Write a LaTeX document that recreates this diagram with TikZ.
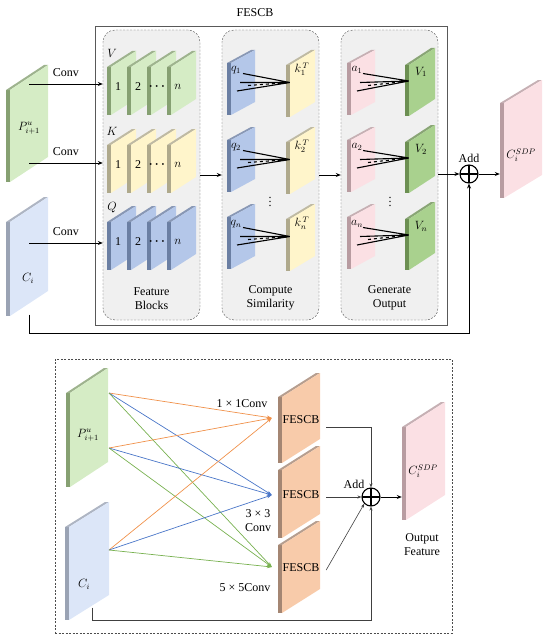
\documentclass[tikz,border=0pt]{standalone}
\usepackage{amsmath}
\usepackage{fontspec}
\setmainfont{Liberation Serif}
\usepackage{tikz}
\usetikzlibrary{arrows.meta,positioning,calc}
\definecolor{grnF}{HTML}{D5ECC5}
\definecolor{grnS}{HTML}{86A072}
\definecolor{grnV}{HTML}{A9D18E}
\definecolor{grnVS}{HTML}{6C8F52}
\definecolor{yelF}{HTML}{FFF5CB}
\definecolor{yelS}{HTML}{AFA98C}
\definecolor{bluF}{HTML}{B4C7E9}
\definecolor{bluS}{HTML}{6B7FA3}
\definecolor{ciF}{HTML}{DCE6F8}
\definecolor{ciS}{HTML}{9AA3B4}
\definecolor{pnkF}{HTML}{FBE0E4}
\definecolor{pnkS}{HTML}{B89CA1}
\definecolor{orgF}{HTML}{F8CBAA}
\definecolor{orgS}{HTML}{A48673}
\definecolor{lnOrg}{HTML}{F0914A}
\definecolor{lnBlu}{HTML}{4A76C8}
\definecolor{lnGrn}{HTML}{78B150}
\tikzset{
  conn/.style={-{Stealth[length=5pt,width=4pt]}, line width=0.9pt},
  thinconn/.style={-{Stealth[length=4pt,width=3pt]}, line width=0.6pt, draw=black!75},
  colconn/.style={-{Stealth[length=5pt,width=3.5pt]}, line width=0.7pt, draw=#1},
  stagebox/.style={draw=black!70, dash pattern=on 2pt off 1.5pt, rounded corners=12pt, fill=black!6, minimum width=97, minimum height=290},
  fan/.style={line width=1.1pt},
  addnode/.style={draw, circle, line width=1.1pt, minimum size=18, inner sep=0,
    path picture={\draw[line width=1.1pt] (path picture bounding box.north) -- (path picture bounding box.south)
      (path picture bounding box.west) -- (path picture bounding box.east);}},
  txt/.style={font=\fontsize{12}{14}\selectfont, inner sep=1pt, align=center}
}
% slab: name, x, y (top left of face), width, height, rise, face colour, side colour
\newcommand{\slab}[8]{%
  \fill[#8] ({#2-4},{#3}) -- ({#2},{#3}) -- ({#2},{#3+#5}) -- ({#2-4},{#3+#5}) -- cycle;
  \fill[#8!80!white] ({#2-4},{#3}) -- ({#2+#4-4},{#3-#6}) -- ({#2+#4},{#3-#6}) -- ({#2},{#3}) -- cycle;
  \fill[#7] ({#2},{#3}) -- ({#2+#4},{#3-#6}) -- ({#2+#4},{#3-#6+#5}) -- ({#2},{#3+#5}) -- cycle;
  \node[minimum width=#4, minimum height=#5] (#1) at ({#2+#4/2},{#3+#5/2-#6/2}) {};
}

\begin{document}
\begin{tikzpicture}[x=1pt, y=-1pt, every node/.style={txt}]
\useasboundingbox (0,0) rectangle (550,642);

% ---- top: one FESCB ----
\node[draw=black!65, line width=0.9pt, minimum width=352, minimum height=299] (fescb) at (271,175.5) {};
\node (ttl) at (255,13) {FESCB};
\node[stagebox] (fb) at (151.5,175) {};
\node[stagebox] (cs) at (270.5,175) {};
\node[stagebox] (go) at (389.5,175) {};
\node[above=9pt of fb.south] {Feature\\Blocks};
\node[above=9pt of cs.south] {Compute\\Similarity};
\node[above=9pt of go.south] {Generate\\Output};

% inputs
\slab{P}{10}{90}{38}{92}{25}{grnF}{grnS}
\node at (29,128) {$P^{u}_{i+1}$};
\slab{C}{10}{222}{38}{94}{25}{ciF}{ciS}
\node at (28,278) {$C_i$};

\coordinate (pv) at (29,84);
\coordinate (pk) at (29,163);
\coordinate (cq) at (29,243);
\foreach \s in {pv,pk,cq}
  \draw[conn] (\s) -- (\s -| fb.west) node[midway, above=6pt] {Conv};

% feature blocks
\foreach \row/\yy/\fc/\sc in {V/67/grnF/grnS, K/145/yelF/yelS, Q/222/bluF/bluS}{
  \node at ({112},{\yy-14}) {$\row$};
  \foreach \t [count=\i] in {1,2,$\boldsymbol{\cdots}$,$n$}{
    \slab{\row\i}{111+20*(\i-1)}{\yy}{25}{48}{16}{\fc}{\sc}
    \node at ({118+20*(\i-1)},{\yy+20}) {\t};
  }
}

% similarity and output
\foreach \r/\yy/\s in {1/63/1, 2/140/2, 3/217/n}{
  \slab{q\r}{231}{\yy}{24}{52}{13}{bluF}{bluS}
  \slab{k\r}{290}{\yy+2}{25}{52}{15}{yelF}{yelS}
  \slab{a\r}{351}{\yy}{24}{52}{13}{pnkF}{pnkS}
  \slab{v\r}{409}{\yy+2}{26}{51}{17}{grnV}{grnVS}
  \node at ({236},{\yy+7}) {$q_{\s}$};
  \node at ({302},{\yy+6}) {$k_{\s}^{\,T}$};
  \node at ({357},{\yy+7}) {$a_{\s}$};
  \node at ({421},{\yy+9}) {$V_{\s}$};
  \foreach \src/\dst in {q\r/k\r, a\r/v\r}{
    \draw[fan] ([yshift=9pt]\src.center) -- ([yshift=1pt]\dst.west)
      ([xshift=-3pt]\src.center) -- ([yshift=1pt]\dst.west)
      ([xshift=-6pt,yshift=-8.5pt]\src.center) -- ([yshift=1pt]\dst.west);
    \draw[fan, dashed] ([xshift=5pt,yshift=-3pt]\src.center) -- ([yshift=1pt]\dst.west);
  }
}
\node at (270,199) {$\vdots$};
\node at (390,199) {$\vdots$};

\draw[conn] (fb.east) -- (cs.west);
\draw[conn] (cs.east) -- (go.west);

\node[addnode] (add) at (469,174) {};
\node[above=1pt of add] {Add};
\draw[conn] (go.east |- add) -- (add.west);
\slab{SDP}{504}{103}{38}{95}{23}{pnkF}{pnkS}
\node at (521,155) {$C_i^{SDP}$};
\draw[conn] (add.east) -- ([xshift=-4pt]SDP.west |- add);
\draw[conn] ([yshift=-11pt]C.south) |- (add |- 0,333) -- (add.south);

% ---- bottom: three FESCB ----
\node[draw=black!70, line width=0.6pt, dash pattern=on 2pt off 1.5pt, minimum width=397, minimum height=274] (frame) at (253.5,496) {};

\slab{P2}{70}{393}{38}{94}{25}{grnF}{grnS}
\node at (88,435) {$P^{u}_{i+1}$};
\slab{C2}{69}{527}{40}{93}{25}{ciF}{ciS}
\node at (84,584) {$C_i$};
\slab{F1}{282}{397}{38}{66}{24}{orgF}{orgS}
\slab{F2}{282}{470}{38}{68}{24}{orgF}{orgS}
\slab{F3}{282}{545}{38}{68}{24}{orgF}{orgS}
\foreach \i/\dy in {1/2,2/3,3/1}
  \node at ([yshift=-\dy pt]F\i.center) {FESCB};

\coordinate (pa) at (109,393);
\coordinate (pb) at (109,448);
\coordinate (cc) at (109,550);
\foreach \s in {pa,pb,cc}{
  \draw[colconn=lnOrg] (\s) -- ([xshift=-10pt]F1.west);
  \draw[colconn=lnBlu] (\s) -- ([xshift=-10pt,yshift=-3pt]F2.west);
  \draw[colconn=lnGrn] (\s) -- ([xshift=-10pt]F3.west);
}
\node at (242,404) {1 × 1Conv};
\node at (258,521) {3 × 3\\Conv};
\node at (245,588) {5 × 5Conv};

\node[addnode] (add2) at (371,497) {};
\node at (354,484) {Add};
\draw[thinconn] ([xshift=6pt,yshift=-9pt]F1.east) -| (add2.north);
\draw[thinconn] ([xshift=6pt,yshift=-5pt]F2.east) -- (add2.west);
\draw[thinconn] ([xshift=6pt,yshift=-3pt]F3.east) -- (add2.south west);
\slab{SDP2}{406}{427}{39}{93}{25}{pnkF}{pnkS}
\node at (423,471) {$C_i^{SDP}$};
\node at (422,545) {Output\\Feature};
\draw[conn] (add2.east) -- ([xshift=-4pt]SDP2.west |- add2);
\draw[thinconn] ([xshift=3pt]C2.south) |- (add2 |- 0,620) -- (add2.south);
\end{tikzpicture}
\end{document}
